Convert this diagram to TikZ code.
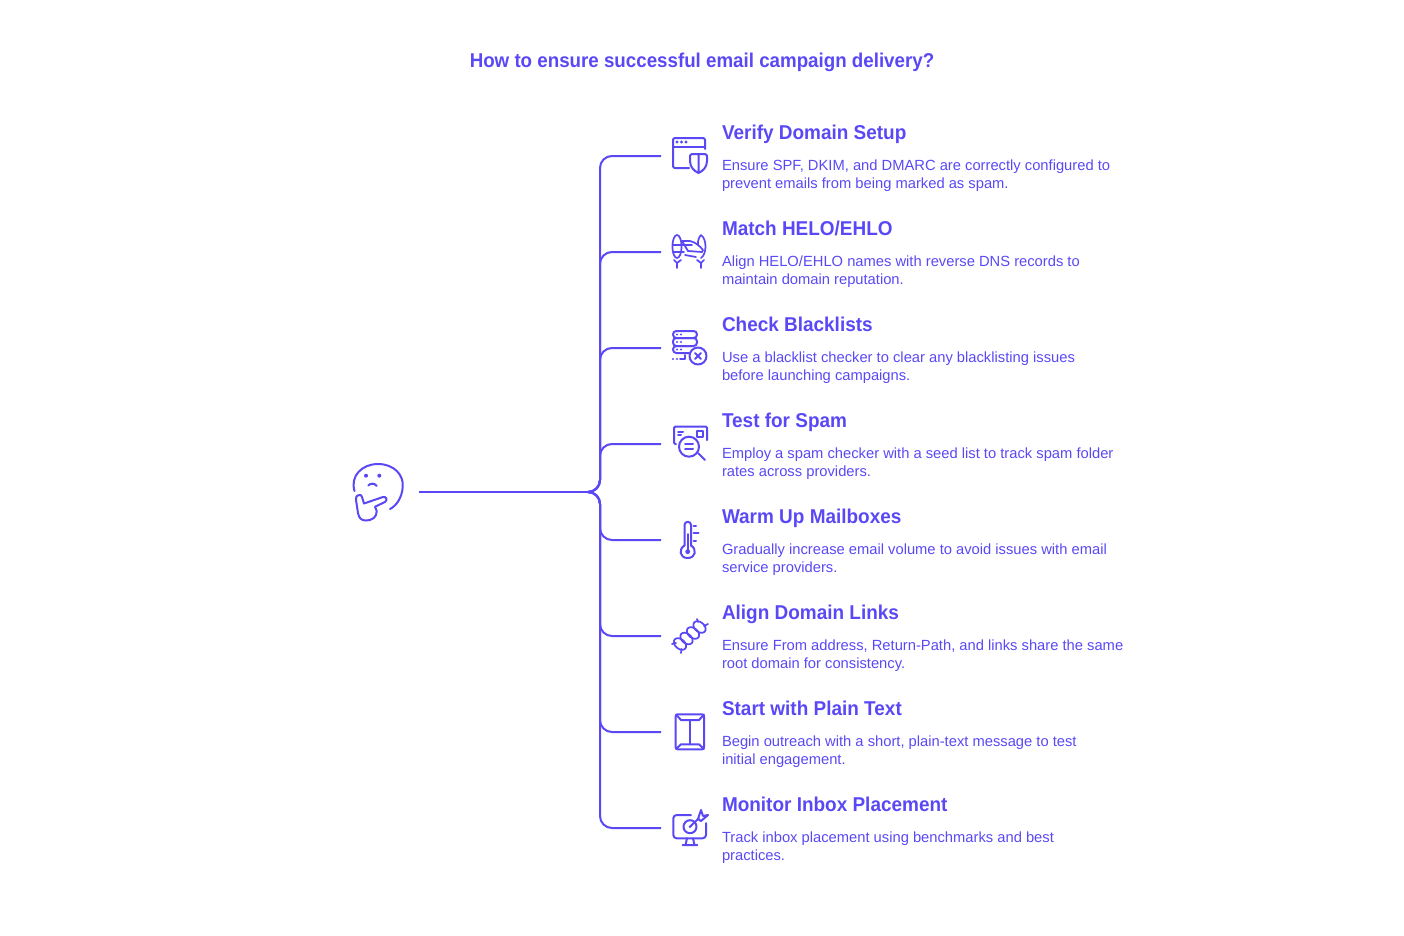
\documentclass[tikz,border=0pt]{standalone}
\usepackage{fontspec}
\setmainfont{Liberation Sans}
\usetikzlibrary{positioning,calc}
\definecolor{ink}{HTML}{5A48F5}

\begin{document}
\begin{tikzpicture}[
  x=0.75pt,y=-0.75pt,
  node distance=0pt,
  every node/.style={text=ink,inner sep=0pt,outer sep=0pt},
  headline/.style={anchor=west,yshift=-1.5pt,text height=11pt,text depth=3pt,font=\fontsize{15}{18}\selectfont\bfseries\addfontfeature{FakeStretch=0.948}},
  note/.style={anchor=north west,align=left,font=\fontsize{11.05}{13.5}\selectfont},
  link/.style={draw=ink,line width=1.5pt,rounded corners=9pt},
  glyph/.style={draw=ink,line width=1.5pt,line cap=round,line join=round,fill=none},
  thin glyph/.style={draw=ink,line width=1.3pt,line cap=round,line join=round,fill=none},
  dot/.style={fill=ink,draw=none},
  shieldicon/.pic={
    \draw[glyph,rounded corners=1.5pt] (-1,13) -- (-17,13) -- (-17,-17) -- (15,-17) -- (15,-6);
    \draw[glyph] (-17,-8.5) -- (15,-8.5);
    \fill[dot] (-13,-13) circle (1.6) (-8.5,-13) circle (1.6) (-4,-13) circle (1.6);
    \draw[glyph] (2,-1) -- (15,-1) .. controls (17,-1) and (17,1) .. (17,2) -- (17,6) .. controls (17,12) and (13,16) .. (8.5,18) .. controls (4,16) and (0,12) .. (0,6) -- (0,2) .. controls (0,1) and (0,-1) .. (2,-1) -- cycle (8.5,-1) -- (8.5,18);
  },
  planeicon/.pic={
    \draw[thin glyph] (-13,-5.5) ellipse (4.6 and 11.5);
    \draw[thin glyph] (11,-17) .. controls (17,-13) and (17,2) .. (11,6) (8,-7) .. controls (7.5,-11) and (9,-15) .. (11,-17);
    \draw[thin glyph] (-13,11) -- (-13,16) (-16,8) -- (-13,11) -- (-9,8);
    \draw[thin glyph] (11,11) -- (11,16) (7,8) -- (11,11) -- (14,8);
    \draw[thin glyph] (-8,-11) -- (0,-11) .. controls (5,-10) and (10,-6) .. (13,-2) -- (12,0) -- (-2,-1) -- cycle;
    \draw[thin glyph] (-17,-7) -- (2,-7) (-17,0) -- (-6,0) (-5,3) -- (6,5);
  },
  servericon/.pic={
    \draw[glyph,rounded corners=2.5pt] (-17,-17) rectangle (7,-10);
    \draw[glyph,rounded corners=2.5pt] (-17,-10) rectangle (7,-2);
    \draw[glyph,rounded corners=2.5pt] (-1,5) -- (-17,5) -- (-17,-2) -- (1,-2);
    \fill[dot] (-13,-13.5) circle (1.2) (-9,-13.5) circle (1.2) (-13,-6) circle (1.2) (-9,-6) circle (1.2) (-13,1.5) circle (1.2) (-9,1.5) circle (1.2);
    \fill[dot] (-17,11) circle (1.2) (-13,11) circle (1.2);
    \draw[glyph] (-10,11) -- (-5,11) -- (-5,7);
    \draw[glyph] (8,8) circle (8.5);
    \draw[glyph] (5,5) -- (11,11) (11,5) -- (5,11);
  },
  lensicon/.pic={
    \draw[glyph,rounded corners=1pt] (-13,1) -- (-15,1) -- (-15,-16.5) -- (18,-16.5) -- (18,-3);
    \draw[glyph] (-11,-11.5) -- (-6,-11.5) (-11,-8) -- (-8,-8);
    \draw[glyph] (8,-12.5) rectangle (13.5,-6.5);
    \draw[glyph] (0,3.7) circle (10);
    \draw[glyph] (-4,1.3) -- (4,1.3) (-4,6.3) -- (4,6.3);
    \draw[glyph] (9,10) -- (16,17);
  },
  thermoicon/.pic={
    \draw[glyph] (1,6.5) -- (1,-14) arc[start angle=0,end angle=-180,radius=3.25] -- (-5.5,6.5);
    \draw[glyph] (1,6.5) .. controls (7,10) and (6,19) .. (-2.3,19) .. controls (-10.6,19) and (-11.6,10) .. (-5.5,6.5);
    \draw[glyph] (-2.3,-5) -- (-2.3,12);
    \fill[dot] (-2.3,12.7) circle (2.4);
    \draw[glyph] (3.5,-13) -- (6,-13) (3.5,-6) -- (8.5,-6) (3.5,1.7) -- (6,1.7);
  },
  chainicon/.pic={
    \draw[thin glyph,rotate around={-40:(-10,8)}] (-10,8) ellipse (7 and 4.8);
    \draw[thin glyph,rotate around={-40:(-3.5,2.5)}] (-3.5,2.5) ellipse (7 and 4.8);
    \draw[thin glyph,rotate around={-40:(3,-3)}] (3,-3) ellipse (7 and 4.8);
    \draw[thin glyph,rotate around={-40:(9.5,-9)}] (9.5,-9) ellipse (7 and 4.8);
    \draw[thin glyph] (-18,8) -- (-14,7) (-9,17) -- (-8.5,13) (7,-17) -- (8,-14) (14,-10) -- (18,-12);
  },
  envelopeicon/.pic={
    \draw[glyph,rounded corners=1.5pt] (-14.3,-17.7) rectangle (14,17.3);
    \draw[glyph] (-14,-17.5) -- (-9,-12) -- (9,-12) -- (14,-17.5);
    \draw[glyph] (-14,17) -- (-9,12.3) -- (9,12.3) -- (14,17);
    \draw[glyph] (0,-12) -- (0,12.3);
  },
  targeticon/.pic={
    \draw[glyph,rounded corners=2.5pt] (1,-15) -- (-16.7,-15) -- (-16.7,8.3) -- (16,8.3) -- (16,-7);
    \draw[glyph] (-3,8.3) -- (-4.5,15) (3,8.3) -- (4.5,15) (-7.3,15) -- (7.3,15);
    \draw[glyph] (0,-3.3) circle (6.5);
    \fill[dot] (0,-3.3) circle (1.3);
    \draw[glyph] (0,-3.3) -- (9,-12) (8,-11) -- (11,-20) -- (13,-14) -- (18,-15) -- (11,-9) -- cycle;
  }
]
\useasboundingbox (0,0) rectangle (1404,936);
\node[font=\fontsize{15}{18}\selectfont\bfseries\addfontfeature{FakeStretch=0.937}] (title) at (702,62.5) {How to ensure successful email campaign delivery?};

% thinking face
\coordinate (face) at (378,490);
\draw[glyph] (354.5,491) .. controls (350,476) and (362,464) .. (378,464) .. controls (394,464) and (404,475) .. (402.7,487) .. controls (402,498) and (396,506) .. (390,509);
\fill[dot] (366,475.7) circle (2) (379.3,475.7) circle (2);
\draw[glyph] (368.3,485.5) .. controls (370,483) and (375,483) .. (376.7,486);
\draw[glyph] (360,495) .. controls (356,495) and (355.5,498) .. (356,500) -- (358,513) .. controls (359,518) and (361,520) .. (365,520.5) .. controls (372,521) and (377,517) .. (376.7,511) -- (375,506.7) -- (385,502) .. controls (388,500) and (386,496) .. (383,497) -- (364,503.5) -- (362,497) .. controls (361.5,495.5) and (361,495) .. (360,495) -- cycle;

\coordinate (start) at (419,492);
\coordinate (hub) at (589,492);
\draw[link] (start) -- (hub);

\coordinate (end1) at (661,156);
\pic at (690,155) {shieldicon};
\node[headline] (h1) at (722,132) {Verify Domain Setup};
\node[note,below=19.5pt of h1.west,anchor=north west] (n1) {Ensure SPF, DKIM, and DMARC are correctly configured to\\prevent emails from being marked as spam.};
\draw[link] (hub) -| ($(end1)+(-61,0)$) -- (end1);

\coordinate (end2) at (661,252);
\pic at (690,252) {planeicon};
\node[headline] (h2) at (722,228) {Match HELO/EHLO};
\node[note,below=19.5pt of h2.west,anchor=north west] (n2) {Align HELO/EHLO names with reverse DNS records to\\maintain domain reputation.};
\draw[link] (hub) -| ($(end2)+(-61,0)$) -- (end2);

\coordinate (end3) at (661,348);
\pic at (690,348) {servericon};
\node[headline] (h3) at (722,324) {Check Blacklists};
\node[note,below=19.5pt of h3.west,anchor=north west] (n3) {Use a blacklist checker to clear any blacklisting issues\\before launching campaigns.};
\draw[link] (hub) -| ($(end3)+(-61,0)$) -- (end3);

\coordinate (end4) at (661,444);
\pic at (689,443) {lensicon};
\node[headline] (h4) at (722,420) {Test for Spam};
\node[note,below=19.5pt of h4.west,anchor=north west] (n4) {Employ a spam checker with a seed list to track spam folder\\rates across providers.};
\draw[link] (hub) -| ($(end4)+(-61,0)$) -- (end4);

\coordinate (end5) at (661,540);
\pic at (690,539) {thermoicon};
\node[headline] (h5) at (722,516) {Warm Up Mailboxes};
\node[note,below=19.5pt of h5.west,anchor=north west] (n5) {Gradually increase email volume to avoid issues with email\\service providers.};
\draw[link] (hub) -| ($(end5)+(-61,0)$) -- (end5);

\coordinate (end6) at (661,636);
\pic at (690,636) {chainicon};
\node[headline] (h6) at (722,612) {Align Domain Links};
\node[note,below=19.5pt of h6.west,anchor=north west] (n6) {Ensure From address, Return-Path, and links share the same\\root domain for consistency.};
\draw[link] (hub) -| ($(end6)+(-61,0)$) -- (end6);

\coordinate (end7) at (661,732);
\pic at (690,732) {envelopeicon};
\node[headline] (h7) at (722,708) {Start with Plain Text};
\node[note,below=19.5pt of h7.west,anchor=north west] (n7) {Begin outreach with a short, plain-text message to test\\initial engagement.};
\draw[link] (hub) -| ($(end7)+(-61,0)$) -- (end7);

\coordinate (end8) at (661,828);
\pic at (690,830) {targeticon};
\node[headline] (h8) at (722,804) {Monitor Inbox Placement};
\node[note,below=19.5pt of h8.west,anchor=north west] (n8) {Track inbox placement using benchmarks and best\\practices.};
\draw[link] (hub) -| ($(end8)+(-61,0)$) -- (end8);
\end{tikzpicture}
\end{document}
